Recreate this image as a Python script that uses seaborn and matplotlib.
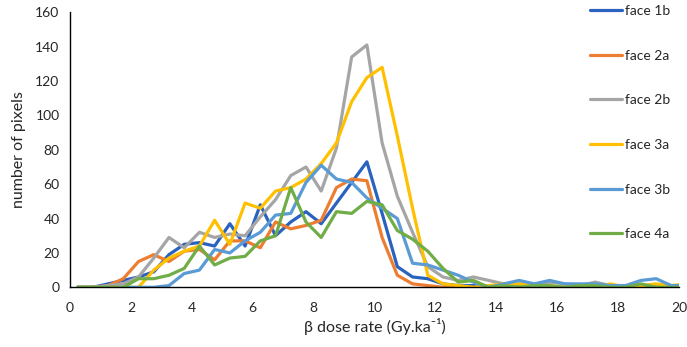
import numpy as np
import pandas as pd
import matplotlib
matplotlib.use("Agg")
import matplotlib.pyplot as plt
import seaborn as sns

# ---- data ----
dose = [0.25, 0.75, 1.25, 1.75, 2.25, 2.75, 3.25, 3.75, 4.25, 4.75,
        5.25, 5.75, 6.25, 6.75, 7.25, 7.75, 8.25, 8.75, 9.25, 9.75,
        10.25, 10.75, 11.25, 11.75, 12.25, 12.75, 13.25, 13.75, 14.25, 14.75,
        15.25, 15.75, 16.25, 16.75, 17.25, 17.75, 18.25, 18.75, 19.25, 19.75,
        20.25]

face_1b = [0, 0, 2, 4, 6, 9, 19, 25, 26, 24,
           37, 24, 48, 30, 38, 44, 37, 49, 61, 73,
           43, 12, 6, 5, 2, 1, 1, 0, 0, 1,
           0, 0, 0, 0, 0, 0, 0, 0, 1, 0,
           0]
face_2a = [0, 0, 1, 5, 15, 19, 15, 21, 22, 16,
           27, 27, 23, 38, 34, 36, 39, 58, 63, 62,
           29, 7, 2, 1, 0, 0, 0, 0, 0, 0,
           0, 0, 0, 0, 0, 0, 0, 0, 0, 0,
           0]
face_2b = [0, 0, 1, 2, 6, 17, 29, 23, 32, 29,
           31, 30, 41, 51, 65, 70, 56, 81, 134, 141,
           84, 53, 32, 12, 6, 4, 6, 4, 2, 2,
           1, 3, 2, 1, 3, 1, 1, 0, 1, 1,
           1]
face_3a = [0, 0, 0, 0, 0, 10, 17, 21, 24, 39,
           25, 49, 46, 56, 58, 63, 72, 84, 108, 122,
           128, 88, 46, 7, 2, 1, 0, 1, 2, 2,
           1, 1, 0, 1, 0, 2, 0, 1, 2, 1,
           2]
face_3b = [0, 0, 0, 0, 0, 0, 1, 8, 10, 22,
           20, 27, 32, 42, 43, 61, 71, 63, 61, 52,
           46, 40, 14, 13, 10, 7, 3, 0, 2, 4,
           2, 4, 2, 2, 2, 1, 1, 4, 5, 1,
           1]
face_4a = [0, 0, 0, 0, 5, 5, 7, 11, 24, 13,
           17, 18, 27, 30, 58, 38, 29, 44, 43, 50,
           48, 33, 28, 21, 11, 3, 4, 0, 1, 0,
           1, 1, 0, 1, 1, 0, 0, 2, 0, 0,
           0]

series_names = ["face 1b", "face 2a", "face 2b", "face 3a", "face 3b", "face 4a"]
series_vals = [face_1b, face_2a, face_2b, face_3a, face_3b, face_4a]
colors = ["#2A62C0", "#ED7D31", "#A5A5A5", "#FFC000", "#5B9BD5", "#70AD47"]

x_ticks = [0, 2, 4, 6, 8, 10, 12, 14, 16, 18, 20]
y_ticks = [0, 20, 40, 60, 80, 100, 120, 140, 160]

rows = []
for name, vals in zip(series_names, series_vals):
    for xv, yv in zip(dose, vals):
        rows.append({"dose": xv, "count": yv, "series": name})
df = pd.DataFrame(rows)

# ---- style ----
sns.set_theme(style="white")
plt.rcParams["font.family"] = ["Lato", "DejaVu Sans"]
text_col = "#262626"

fig = plt.figure(figsize=(6.87, 3.47), dpi=100)
ax = fig.add_axes([70 / 687, 1 - 287.3 / 347, 609 / 687, 275 / 347])

sns.lineplot(data=df, x="dose", y="count", hue="series", hue_order=series_names,
             palette=dict(zip(series_names, colors)), linewidth=2.3, ax=ax,
             legend=True, sort=False)

ax.set_xlim(0, 20)
ax.set_ylim(0, 160)
ax.set_xticks(x_ticks)
ax.set_yticks(y_ticks)
ax.tick_params(axis="both", direction="out", length=4.5, width=1, colors="#000000",
               labelsize=10, labelcolor=text_col)
ax.tick_params(axis="x", pad=6)
ax.tick_params(axis="y", pad=3)
for s in ["top", "right"]:
    ax.spines[s].set_visible(False)
for s in ["left", "bottom"]:
    ax.spines[s].set_color("#000000")
    ax.spines[s].set_linewidth(1.0)

ax.set_xlabel("β dose rate (Gy.ka⁻¹)", fontsize=11.5, color=text_col)
ax.set_ylabel("number of pixels", fontsize=11.5, color=text_col)
ax.xaxis.set_label_coords((375 - 70) / 609, -(318 - 287.3) / 275)
ax.yaxis.set_label_coords((26 - 70) / 609, 0.5)

handles, labels = ax.get_legend_handles_labels()
leg = ax.legend(handles, labels, loc="upper left",
                bbox_to_anchor=(590 / 687, 1 - 5 / 347), bbox_transform=fig.transFigure,
                frameon=False, fontsize=10, handlelength=2.3, handletextpad=0.2,
                labelspacing=2.35, borderpad=0, borderaxespad=0)
for t in leg.get_texts():
    t.set_color(text_col)
for h in leg.get_lines():
    h.set_linewidth(2.3)

fig.savefig("out.png", dpi=100)
